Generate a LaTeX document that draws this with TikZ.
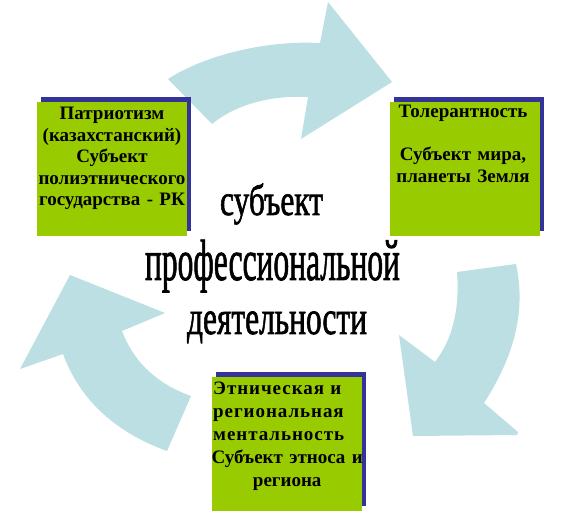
\documentclass[tikz,border=0pt]{standalone}
\usepackage{fontspec}
\setmainfont{Liberation Serif}
\newfontfamily\centerfont[BoldFont={Liberation Serif}, BoldFeatures={FakeBold=1.6}]{Liberation Serif}
\usepackage{graphicx}
\usetikzlibrary{shadows}
\definecolor{boxgreen}{RGB}{153,204,0}
\definecolor{boxnavy}{RGB}{51,51,153}
\definecolor{arrowblue}{RGB}{187,223,227}
\tikzset{
  greenbox/.style={fill=boxgreen, draw=none, inner sep=0pt, minimum width=150pt, minimum height=134pt,
    drop shadow={shadow xshift=4pt, shadow yshift=5pt, fill=boxnavy, opacity=1}},
  boxtext/.style={inner sep=0pt, font=\fontsize{19}{21.5}\selectfont\bfseries, text width=150pt, align=center},
  boxtextb/.style={inner sep=0pt, font=\fontsize{19}{23}\selectfont\bfseries, text width=148pt, align=left},
  bigtext/.style={inner sep=0pt, anchor=base, font=\centerfont\bfseries},
  cyclearrow/.style={fill=arrowblue, draw=none}
}
\begin{document}
\begin{tikzpicture}[x=1pt,y=-1pt]
\useasboundingbox (0,0) rectangle (576,518);
% arrows
\fill[cyclearrow] (168,79) .. controls (200,58) and (260,40) .. (320,43)
  -- (328,2) -- (392,82) -- (301,139) -- (308,97)
  .. controls (270,95) and (235,105) .. (212,124) -- cycle;
\fill[cyclearrow] (457,272) -- (516,264) .. controls (526,310) and (515,355) .. (484,403)
  -- (518,432) -- (517,435) -- (413,436) -- (399,335) -- (435,362)
  .. controls (452,340) and (460,310) .. (457,272) -- cycle;
\fill[cyclearrow] (70,275) -- (165,313) -- (122,331)
  .. controls (135,365) and (160,385) .. (191,396) -- (167,451)
  .. controls (115,432) and (80,400) .. (63,354) -- (20,369) -- cycle;
% boxes
\node[greenbox] (b1) at (112,169) {};
\node[greenbox] (b2) at (465,169) {};
\node[greenbox] (b3) at (287,444) {};
\node[boxtext, anchor=north] (t1) at (112,107) {Патриотизм\\(казахстанский)\\Субъект\\полиэтнического\\государства - РК};
\node[boxtext, anchor=north] (t2) at (463,105) {Толерантность\\[21.5pt]Субъект мира,\\планеты Земля};
\node[boxtextb, anchor=north west] (t3) at (213,382) {{\addfontfeatures{LetterSpace=5}Этническая и}\\{\addfontfeatures{LetterSpace=5}региональная}\\{\addfontfeatures{LetterSpace=5}ментальность}\\\makebox[\linewidth][c]{Субъект этноса и}\\\makebox[\linewidth][c]{региона}};
% center text
\node[bigtext] (c1) at (271.5,215) {\resizebox{103pt}{\height}{\fontsize{44}{44}\selectfont субъект}};
\node[bigtext] (c2) at (272.5,280) {\resizebox{255pt}{\height}{\fontsize{58}{58}\selectfont профессиональной}};
\node[bigtext] (c3) at (277,334) {\resizebox{180pt}{\height}{\fontsize{48}{48}\selectfont деятельности}};
\end{tikzpicture}
\end{document}
